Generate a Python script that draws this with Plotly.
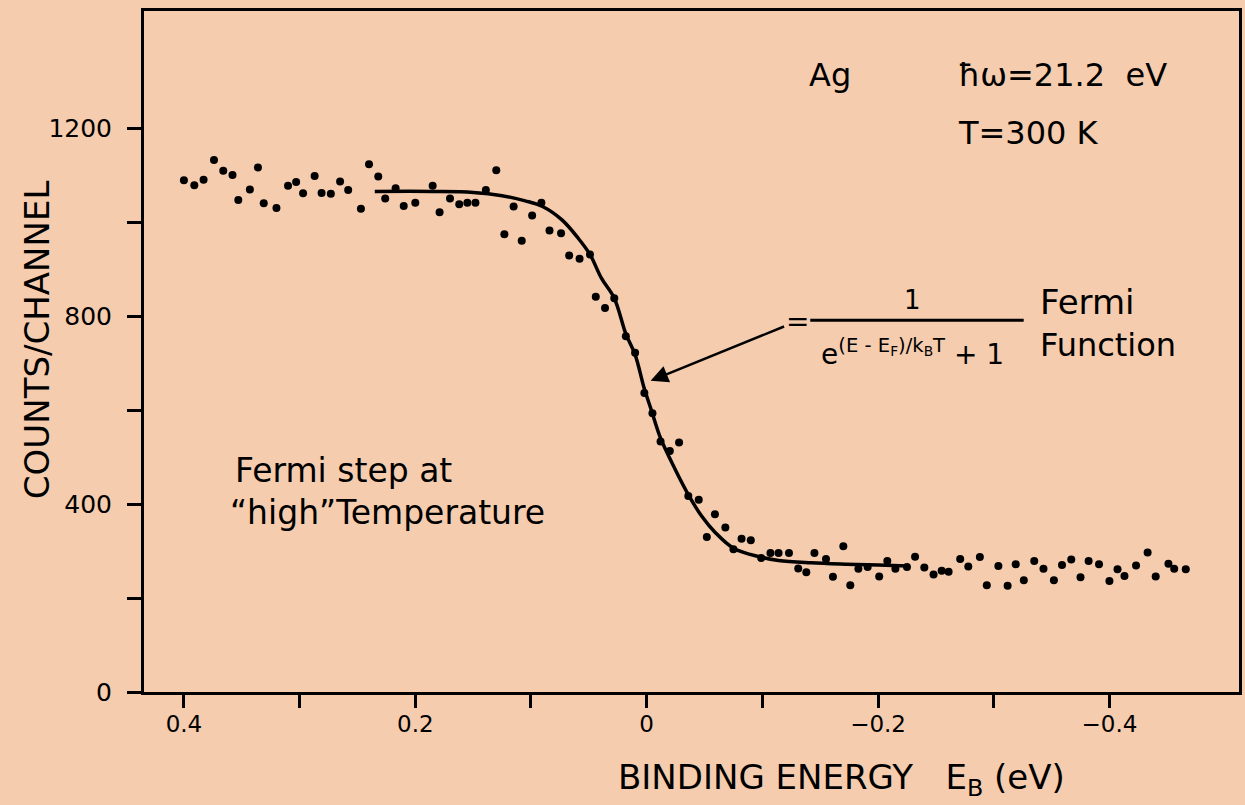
import plotly.graph_objects as go

# ---- data ----
energy = [0.400, 0.391, 0.383, 0.374, 0.366, 0.358, 0.353, 0.343, 0.336, 0.331,
          0.320, 0.310, 0.303, 0.297, 0.287, 0.281, 0.273, 0.265, 0.258, 0.247,
          0.240, 0.232, 0.226, 0.217, 0.210, 0.200, 0.185, 0.179, 0.170, 0.162,
          0.155, 0.148, 0.139, 0.130, 0.123, 0.115, 0.108, 0.099, 0.091, 0.084,
          0.074, 0.067, 0.058, 0.049, 0.044, 0.036, 0.028, 0.018, 0.010, 0.002,
          -0.005, -0.012, -0.020, -0.028, -0.036, -0.045, -0.052, -0.059, -0.068, -0.075,
          -0.082, -0.090, -0.099, -0.107, -0.114, -0.123, -0.131, -0.138, -0.145, -0.155,
          -0.161, -0.170, -0.176, -0.183, -0.191, -0.201, -0.208, -0.215, -0.225, -0.232,
          -0.240, -0.248, -0.255, -0.261, -0.271, -0.278, -0.288, -0.294, -0.304, -0.312,
          -0.319, -0.326, -0.335, -0.343, -0.352, -0.359, -0.367, -0.375, -0.382, -0.391,
          -0.400, -0.407, -0.413, -0.423, -0.433, -0.440, -0.451, -0.456, -0.466]
counts = [1089, 1078, 1090, 1132, 1109, 1100, 1047, 1069, 1116, 1040,
          1030, 1077, 1085, 1061, 1098, 1062, 1060, 1086, 1068, 1028,
          1123, 1097, 1050, 1072, 1034, 1041, 1077, 1021, 1050, 1038,
          1041, 1041, 1068, 1110, 974, 1033, 960, 1014, 1041, 982,
          976, 929, 922, 931, 841, 817, 838, 757, 722, 636,
          593, 533, 513, 531, 417, 409, 330, 378, 350, 304,
          326, 323, 285, 296, 296, 296, 263, 255, 296, 283,
          245, 310, 227, 262, 266, 246, 279, 262, 266, 288,
          265, 250, 258, 256, 283, 267, 287, 227, 268, 226,
          272, 238, 279, 262, 238, 270, 282, 244, 279, 272,
          236, 261, 247, 269, 297, 246, 273, 262, 261]

fit_energy = [0.235, 0.185, 0.150, 0.125, 0.105, 0.090, 0.073, 0.059, 0.049, 0.039, 0.028,
              0.018, 0.010, 0.002, -0.004, -0.012, -0.025, -0.036, -0.047, -0.059, -0.075,
              -0.097, -0.114, -0.142, -0.172, -0.200, -0.226]
fit_counts = [1065, 1065, 1063, 1056, 1045, 1033, 1004, 965, 931, 880, 838,
              762, 718, 645, 600, 540, 472, 420, 376, 340, 306,
              288, 280, 275, 272, 270, 268]

y_tickvals = [0, 400, 800, 1200]
y_ticktext = ["0", "400", "800", "1200"]
y_minor = [200, 600, 1000]
x_tickvals = [0.4, 0.2, 0.0, -0.2, -0.4]
x_ticktext = ["0.4", "0.2", "0", "\u22120.2", "\u22120.4"]
x_minor = [0.3, 0.1, -0.1, -0.3]

BG = "#F5CCAE"
FONT = "DejaVu Sans"

fig = go.Figure()
fig.add_trace(go.Scatter(x=fit_energy, y=fit_counts, mode="lines",
                         line=dict(color="black", width=3.5, shape="spline", smoothing=1.0),
                         hoverinfo="skip", showlegend=False))
fig.add_trace(go.Scatter(x=energy, y=counts, mode="markers",
                         marker=dict(color="black", size=8),
                         showlegend=False))

axis_common = dict(showgrid=False, zeroline=False, showline=True, linecolor="black",
                   linewidth=3, mirror=True, ticks="outside", tickwidth=2.5,
                   tickcolor="black")

fig.update_xaxes(range=[0.4345, -0.512], tickmode="array", tickvals=x_tickvals,
                 ticktext=x_ticktext, ticklen=13, ticklabelstandoff=-4,
                 tickfont=dict(family=FONT, size=23, color="black"),
                 minor=dict(ticks="outside", tickmode="array", tickvals=x_minor, ticklen=13,
                            tickwidth=2.5, tickcolor="black", showgrid=False),
                 **axis_common)
fig.update_yaxes(range=[0, 1449], tickmode="array", tickvals=y_tickvals,
                 ticktext=y_ticktext, ticklen=14, ticklabelstandoff=10,
                 tickfont=dict(family=FONT, size=25, color="black"),
                 minor=dict(ticks="outside", tickmode="array", tickvals=y_minor, ticklen=14,
                            tickwidth=2.5, tickcolor="black", showgrid=False),
                 **axis_common)

def F(size):
    return dict(family=FONT, size=size, color="black")

ann = [
    dict(x=-0.1586, y=1313, text="Ag", xanchor="center", font=F(32)),
    dict(x=-0.2672, y=1313, text="\u0127\u03c9=21.2  eV", xanchor="left", font=F(32)),
    dict(x=-0.2672, y=1189, text="T=300 K", xanchor="left", font=F(32)),
    dict(x=0.3578, y=472, text="Fermi step at", xanchor="left", font=F(33)),
    dict(x=0.3621, y=381, text="\u201chigh\u201dTemperature", xanchor="left", font=F(33)),
    dict(x=-0.2302, y=834, text="1", xanchor="center", font=F(26)),
    dict(x=-0.2302, y=722, text="e<sup>(E - E<sub>F</sub>)/k<sub>B</sub>T</sup> + 1",
         xanchor="center", font=F(28)),
    dict(x=-0.3379, y=830, text="Fermi", xanchor="left", font=F(34)),
    dict(x=-0.3379, y=738, text="Function", xanchor="left", font=F(32)),
]
for a in ann:
    fig.add_annotation(xref="x", yref="y", showarrow=False, yanchor="middle", **a)

# "=" sign with the arrow pointing to the fitted Fermi function
fig.add_annotation(xref="x", yref="y", axref="x", ayref="y",
                   x=-0.0034, y=662, ax=-0.1300, ay=789, text="=",
                   font=F(28),
                   showarrow=True, arrowhead=2, arrowsize=1.4, arrowwidth=2.5,
                   arrowcolor="black", standoff=0, startstandoff=0)

# fraction bar
fig.add_shape(type="line", xref="x", yref="y", x0=-0.1414, x1=-0.3259, y0=791, y1=791,
              line=dict(color="black", width=3))

# axis titles
fig.add_annotation(xref="paper", yref="paper", x=-0.0975, y=0.517, text="COUNTS/CHANNEL",
                   textangle=-90, showarrow=False, xanchor="center", yanchor="middle",
                   font=F(34))
fig.add_annotation(xref="paper", yref="paper", x=0.6366, y=-0.129,
                   text="BINDING ENERGY   E<sub>B</sub> (eV)",
                   showarrow=False, xanchor="center", yanchor="middle",
                   font=F(34))

fig.update_layout(width=1245, height=805, paper_bgcolor=BG, plot_bgcolor=BG,
                  margin=dict(l=144, r=3, t=11, b=113), showlegend=False)

fig.write_html("out.html")
